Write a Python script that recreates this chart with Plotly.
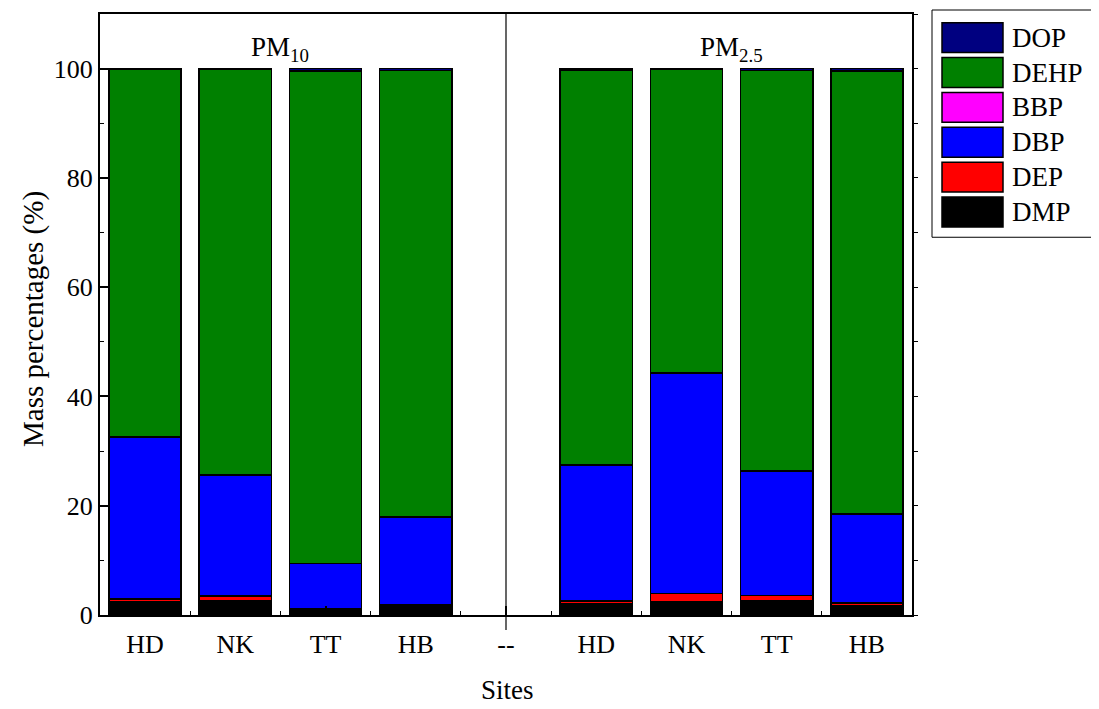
import plotly.graph_objects as go

# ---- data ----
sites = ["HD", "NK", "TT", "HB", "--", "HD", "NK", "TT", "HB"]
series = ["DMP", "DEP", "DBP", "BBP", "DEHP", "DOP"]
colors = {"DMP": "#000000", "DEP": "#ff0000", "DBP": "#0000ff",
          "BBP": "#ff00ff", "DEHP": "#008000", "DOP": "#000080"}

dmp  = [2.4, 2.6, 1.0, 1.5, None, 2.0, 2.4, 2.7, 1.7]
dep  = [0.5, 0.85, 0.2, 0.35, None, 0.6, 1.5, 0.9, 0.5]
dbp  = [29.7, 22.2, 8.2, 16.0, None, 24.8, 40.3, 22.7, 16.3]
bbp  = [0.05, 0.05, 0.05, 0.05, None, 0.05, 0.05, 0.05, 0.05]
dehp = [67.15, 74.15, 90.15, 81.8, None, 72.2, 55.55, 73.35, 81.05]
dop  = [0.2, 0.15, 0.4, 0.3, None, 0.3, 0.2, 0.3, 0.4]
values = {"DMP": dmp, "DEP": dep, "DBP": dbp, "BBP": bbp, "DEHP": dehp, "DOP": dop}

group_labels = ["PM<sub>10</sub>", "PM<sub>2.5</sub>"]
group_centers = [1.5, 6.5]
legend_order = ["DOP", "DEHP", "BBP", "DBP", "DEP", "DMP"]

FONT = "Times New Roman, Liberation Serif, serif"
xpos = list(range(len(sites)))

# page body has an 8px margin; margins below place the plot area at
# x 100..912, y 12..615 in the browser window
ML, MT, MR, MB = 92, 4, 195, 102
W, H = 1099, 709
PLOT_W = W - ML - MR
PLOT_H = H - MT - MB

fig = go.Figure()
for s in series:
    fig.add_trace(go.Bar(
        x=xpos, y=values[s], name=s, width=0.8,
        marker=dict(color=colors[s], line=dict(color="black", width=1.5)),
        showlegend=False,
    ))

# empty trace hosting the right-side tick axis
fig.add_trace(go.Scatter(x=[None], y=[None], yaxis="y2", showlegend=False, hoverinfo="skip"))

fig.update_layout(
    barmode="stack",
    width=W, height=H,
    margin=dict(l=ML, r=MR, t=MT, b=MB),
    paper_bgcolor="white", plot_bgcolor="white",
    font=dict(family=FONT, size=26, color="black"),
    xaxis=dict(
        range=[-0.5, 8.5], tickmode="array", tickvals=xpos, ticktext=sites,
        ticks="inside", ticklen=9, tickwidth=1.5, tickcolor="black",
        minor=dict(ticks="inside", ticklen=4, tickmode="linear", tick0=0.5, dtick=1,
                   tickcolor="black", tickwidth=1),
        showline=True, linecolor="black", linewidth=2, mirror=True,
        showgrid=False, zeroline=False, ticklabelstandoff=5,
        tickfont=dict(size=26),
    ),
    yaxis=dict(
        range=[0, 110], tickmode="array", tickvals=[0, 20, 40, 60, 80, 100],
        ticks="inside", ticklen=9, tickwidth=1.5, tickcolor="black",
        minor=dict(ticks="inside", ticklen=4, tickmode="array",
                   tickvals=[10, 30, 50, 70, 90], tickcolor="black", tickwidth=1),
        showline=True, linecolor="black", linewidth=2, mirror=True,
        showgrid=False, zeroline=False,
        tickfont=dict(size=26),
    ),
    yaxis2=dict(
        overlaying="y", side="right", range=[0, 110],
        tickmode="linear", tick0=0, dtick=10, ticks="outside", ticklen=5,
        tickcolor="black", tickwidth=1, showticklabels=False,
        showgrid=False, zeroline=False, showline=False,
    ),
    bargap=0.2,
)

# window pixel -> paper coordinate helpers
def px2x(px): return (px - 8 - ML) / PLOT_W
def px2y(py): return (H - MB + 8 - py) / PLOT_H

# separator between groups
fig.add_shape(type="line", xref="paper", yref="paper",
              x0=(4 + 0.5) / 9, x1=(4 + 0.5) / 9, y0=px2y(630), y1=1,
              line=dict(color="black", width=1.2))

# group labels
for lab, cx in zip(group_labels, group_centers):
    fig.add_annotation(x=cx, y=px2y(47), xref="x", yref="paper", text=lab,
                       xanchor="center", yanchor="middle",
                       showarrow=False, font=dict(size=27, family=FONT))

# axis titles
fig.add_annotation(x=px2x(34), y=px2y(318), xref="paper", yref="paper",
                   text="Mass percentages (%)", textangle=-90, showarrow=False,
                   xanchor="center", yanchor="middle",
                   font=dict(size=29, family=FONT))
fig.add_annotation(x=px2x(507), y=px2y(690), xref="paper", yref="paper",
                   text="Sites", showarrow=False, xanchor="center", yanchor="middle",
                   font=dict(size=27, family=FONT))

# custom legend
fig.add_shape(type="rect", xref="paper", yref="paper",
              x0=px2x(932), x1=px2x(1097), y0=px2y(236), y1=px2y(8),
              line=dict(color="black", width=1), fillcolor="white")
for i, s in enumerate(legend_order):
    top = 20.7 + 35 * i
    fig.add_shape(type="rect", xref="paper", yref="paper",
                  x0=px2x(942), x1=px2x(1003), y0=px2y(top + 30), y1=px2y(top),
                  line=dict(color="black", width=1.5), fillcolor=colors[s])
    fig.add_annotation(x=px2x(1010), y=px2y(top + 15), xref="paper", yref="paper",
                       text=s, showarrow=False, xanchor="left", yanchor="middle",
                       font=dict(size=27, family=FONT))

fig.write_html("out.html")
